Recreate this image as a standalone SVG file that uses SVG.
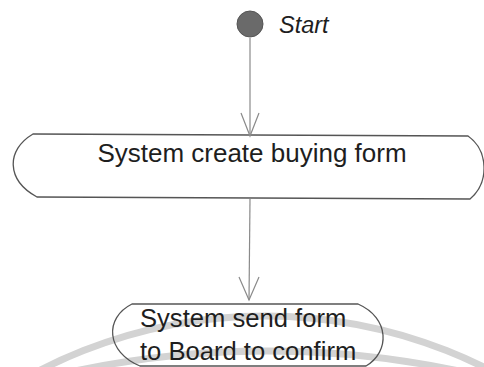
<svg xmlns="http://www.w3.org/2000/svg" width="484" height="367" viewBox="0 0 484 367">
  <style>
    .band { fill: none; stroke: #d3d3d3; stroke-width: 7; }
    .act { fill: none; stroke: #555; stroke-width: 1.3; }
    .label { font-family: "Liberation Sans", Arial, sans-serif; fill: #1e1e1e; }
    .flow { fill: none; stroke: #8a8a8a; stroke-width: 1.2; }
  </style>

  <rect width="484" height="367" fill="#ffffff"/>

  <!-- faint background rings -->
  <g id="background">
    <circle class="band" cx="265" cy="809" r="493"/>
    <circle class="band" cx="267" cy="1276" r="925"/>
  </g>

  <g id="start">
    <circle cx="250" cy="24" r="13" fill="#6a6a6a" stroke="#555" stroke-width="1"/>
    <text class="label" x="279" y="33" font-size="23.5" font-style="italic">Start</text>
  </g>

  <g id="create-form">
    <path class="act" d="M 33 134 L 468 136 C 488 150, 490 182, 470 199 L 37 197 C 6 180, 6 150, 33 134 Z"/>
    <text class="label" x="252" y="162" font-size="26" text-anchor="middle">System create buying form</text>
  </g>

  <g id="send-form">
    <path class="act" d="M 132 304 L 358 304 C 390 318, 390 352, 366 366 L 140 366 C 106 352, 104 318, 132 304 Z"/>
    <text class="label" x="140" y="327" font-size="25.6">System send form</text>
    <text class="label" x="140" y="360" font-size="25.6">to Board to confirm</text>
  </g>

  <g id="connectors">
    <line class="flow" x1="250" y1="38" x2="250" y2="136"/>
    <polyline class="flow" points="241,113 250,136 259,113"/>
    <line class="flow" x1="250" y1="199" x2="249" y2="300"/>
    <polyline class="flow" points="239,277 249,300 259,277"/>
  </g>
</svg>
